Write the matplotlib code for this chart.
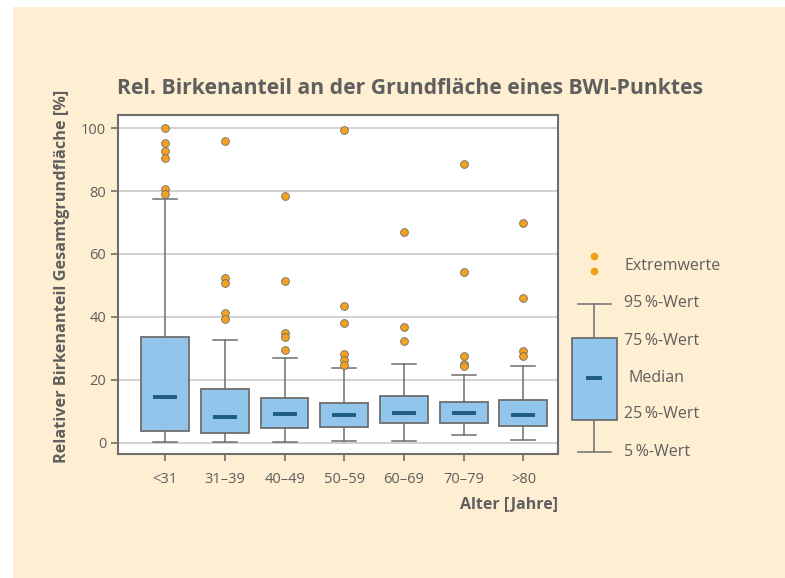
import matplotlib.pyplot as plt
from matplotlib.patches import Rectangle

# Altersklassen
categories = ['<31', '31–39', '40–49', '50–59', '60–69', '70–79', '>80']

# Perzentile je Altersklasse
p05 = [0.1, 0.1, 0.1, 0.6, 0.5, 2.4, 0.8]
p25 = [3.6, 3.2, 4.6, 5.1, 6.1, 6.2, 5.2]
med = [14.4, 8.2, 9.1, 8.7, 9.4, 9.4, 8.9]
p75 = [33.7, 17.1, 14.2, 12.5, 14.8, 12.9, 13.5]
p95 = [77.6, 32.6, 27.0, 23.7, 25.0, 21.6, 24.3]

# Extremwerte
extremes = [
    [100.0, 95.2, 92.8, 90.6, 80.6, 79.2],
    [95.9, 52.5, 50.7, 41.2, 39.2],
    [78.4, 51.3, 35.0, 33.7, 29.4],
    [99.5, 43.4, 38.0, 28.3, 26.4, 24.6],
    [66.9, 36.7, 32.4],
    [88.6, 54.4, 27.6, 25.0, 24.3],
    [70.0, 46.1, 29.3, 27.6],
]

legend_labels = ['Extremwerte', '95\u2009%-Wert', '75\u2009%-Wert', 'Median',
                 '25\u2009%-Wert', '5\u2009%-Wert']

cream = '#feeed2'
grey = '#6e6e6e'
text_col = '#5f5f5f'
box_col = '#92c5ec'
med_col = '#1d5d80'
dot_col = '#f4a11d'

plt.rcParams['font.family'] = ['Open Sans', 'DejaVu Sans']

fig = plt.figure(figsize=(7.85, 5.78), dpi=100)
fig.patch.set_facecolor('white')
fig.patches.append(Rectangle((13 / 785, 0), 1, 1 - 7 / 578, transform=fig.transFigure,
                             facecolor=cream, edgecolor='none', zorder=-10))

ax = fig.add_axes([118 / 785, 1 - 454 / 578, 440 / 785, 339 / 578])
ax.set_facecolor('white')

stats = []
for i in range(len(categories)):
    stats.append({'whislo': p05[i], 'q1': p25[i], 'med': med[i], 'q3': p75[i],
                  'whishi': p95[i], 'fliers': extremes[i], 'label': categories[i]})

bp = ax.bxp(stats, positions=range(len(categories)), widths=0.8, patch_artist=True,
            boxprops=dict(facecolor=box_col, edgecolor=grey, linewidth=1.3),
            medianprops=dict(color=med_col, linewidth=2.8, solid_capstyle='butt'),
            whiskerprops=dict(color=grey, linewidth=1.1),
            capprops=dict(color=grey, linewidth=1.1), capwidths=0.4,
            flierprops=dict(marker='o', markerfacecolor=dot_col, markeredgecolor=grey,
                            markeredgewidth=0.6, markersize=5.6))

# Medianstriche nur halb so breit wie die Box
for i, line in enumerate(bp['medians']):
    line.set_xdata([i - 0.2, i + 0.2])

ax.set_xlim(-0.79, 6.58)
ax.set_ylim(-3.6, 104.2)
ax.set_yticks([0, 20, 40, 60, 80, 100])
ax.yaxis.grid(True, color='#cfcfcf', linewidth=1.3, zorder=0)
ax.set_axisbelow(True)
for s in ax.spines.values():
    s.set_color(grey)
    s.set_linewidth(1.5)
ax.tick_params(colors=grey, labelcolor=text_col, labelsize=10.5, length=5, width=1.2)
ax.tick_params(axis='x', pad=8)

fig.text(117 / 785, 1 - 89 / 578, 'Rel. Birkenanteil an der Grundfläche eines BWI-Punktes',
         fontsize=15.2, fontweight='bold', color=text_col, va='center', ha='left')
fig.text(62 / 785, 1 - 276 / 578, 'Relativer Birkenanteil Gesamtgrundfläche [%]',
         fontsize=11.7, fontweight='bold', color=text_col, rotation=90, va='center', ha='center')
fig.text(558 / 785, 1 - 505 / 578, 'Alter [Jahre]', fontsize=11.5, fontweight='bold',
         color=text_col, va='center', ha='right')

# Legende als eigene Achse
lax = fig.add_axes([560 / 785, 1 - 470 / 578, 70 / 785, 230 / 578])
lax.axis('off')
lbp = lax.bxp([{'whislo': 451.7, 'q1': 420, 'med': 377.7, 'q3': 337.7, 'whishi': 304.3,
                'fliers': [256, 271]}], positions=[594], widths=45, patch_artist=True,
              boxprops=dict(facecolor=box_col, edgecolor=grey, linewidth=1.3),
              medianprops=dict(color=med_col, linewidth=2.8, solid_capstyle='butt'),
              whiskerprops=dict(color=grey, linewidth=1.1),
              capprops=dict(color=grey, linewidth=1.1), capwidths=33,
              flierprops=dict(marker='o', markerfacecolor=dot_col, markeredgecolor='none',
                              markersize=5.6))
lbp['medians'][0].set_xdata([586, 602])
lax.set_xlim(560, 630)
lax.set_ylim(470, 240)

leg_y = [266, 303, 341, 378, 414, 452]
leg_x = [624, 624, 624, 629, 624, 624]
for lab, x, y in zip(legend_labels, leg_x, leg_y):
    fig.text(x / 785, 1 - y / 578, lab, fontsize=11.5, color=text_col, va='center', ha='left')

fig.savefig('out.png', dpi=100, facecolor=fig.get_facecolor())
